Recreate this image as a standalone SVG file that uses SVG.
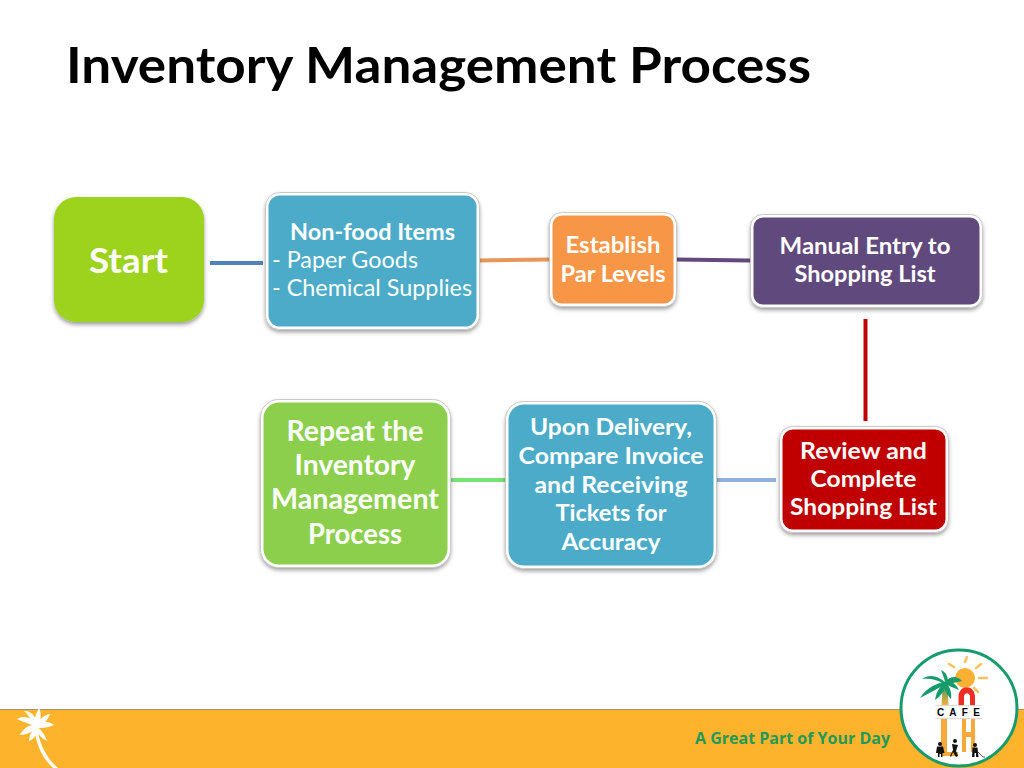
<svg xmlns="http://www.w3.org/2000/svg" width="1024" height="768" viewBox="0 0 1024 768">
<defs>
<filter id="sh" x="-10%" y="-10%" width="120%" height="125%"><feDropShadow dx="0" dy="2.500" stdDeviation="2" flood-color="#000" flood-opacity="0.4"/></filter>
<linearGradient id="palm" x1="0" y1="0" x2="0" y2="1"><stop offset="0" stop-color="#1a9a5a"/><stop offset="1" stop-color="#f5b041"/></linearGradient>
</defs>
<style>
text{font-family:"Lato","Carlito","Noto Sans",sans-serif;text-anchor:middle;fill:#fff}
.b{font-weight:700}
.box{stroke:#fff;stroke-width:3;filter:url(#sh)}
.out{fill:none;stroke:#c9c9c9;stroke-width:1}
.c{fill:none;stroke-width:4}
</style>
<rect width="1024" height="768" fill="#fff"/>
<text x="66" y="83" style="text-anchor:start;fill:#000;font-size:50px;font-weight:700" textLength="745" lengthAdjust="spacingAndGlyphs">Inventory Management Process</text>

<g id="connectors">
<path class="c" stroke="#4f81bd" d="M210 263H263"/>
<path class="c" stroke="#e8975a" d="M479 260.500L550 259.500"/>
<path class="c" stroke="#64497f" d="M676 259.500L750 260.500"/>
<path class="c" stroke="#c00000" d="M865.500 319V421"/>
<path class="c" stroke="#8fb0dc" d="M717 480H776"/>
<path class="c" stroke="#78e078" d="M451 480H505"/>
</g>

<g id="start"><rect x="54" y="197" width="150" height="125" rx="22" fill="#9dd31f" filter="url(#sh)"/>
<text class="b" x="128.500" y="273" font-size="34" textLength="79" lengthAdjust="spacingAndGlyphs">Start</text></g>

<g id="nonfood"><rect class="box" x="267" y="194" width="211" height="134" rx="13" fill="#4babc8"/>
<rect class="out" x="265.500" y="192.500" width="214" height="137" rx="14"/>
<text class="b" x="372.500" y="240" font-size="23.500" textLength="165" lengthAdjust="spacingAndGlyphs">Non-food Items</text>
<text x="345" y="268" font-size="23.500" textLength="146" lengthAdjust="spacingAndGlyphs">- Paper Goods</text>
<text x="372" y="296" font-size="23.500" textLength="200" lengthAdjust="spacingAndGlyphs">- Chemical Supplies</text></g>

<g id="par"><rect class="box" x="551" y="214" width="124" height="91" rx="11" fill="#f79646"/>
<rect class="out" x="549.500" y="212.500" width="127" height="94" rx="12"/>
<text class="b" x="613" y="253" font-size="23.500" textLength="95" lengthAdjust="spacingAndGlyphs">Establish</text>
<text class="b" x="613" y="282" font-size="23.500" textLength="105" lengthAdjust="spacingAndGlyphs">Par Levels</text></g>

<g id="manual"><rect class="box" x="752" y="216" width="229" height="90" rx="11" fill="#604a7b"/>
<rect class="out" x="750.500" y="214.500" width="232" height="93" rx="12"/>
<text class="b" x="865" y="254" font-size="23.500" textLength="171" lengthAdjust="spacingAndGlyphs">Manual Entry to</text>
<text class="b" x="865" y="282" font-size="23.500" textLength="141" lengthAdjust="spacingAndGlyphs">Shopping List</text></g>

<g id="review"><rect class="box" x="781" y="428" width="166" height="103" rx="12" fill="#c00000"/>
<rect class="out" x="779.500" y="426.500" width="169" height="106" rx="13"/>
<text class="b" x="863.500" y="459" font-size="23.500" textLength="127" lengthAdjust="spacingAndGlyphs">Review and</text>
<text class="b" x="863.500" y="487" font-size="23.500" textLength="106" lengthAdjust="spacingAndGlyphs">Complete</text>
<text class="b" x="863.500" y="515" font-size="23.500" textLength="147" lengthAdjust="spacingAndGlyphs">Shopping List</text></g>

<g id="delivery"><rect class="box" x="507" y="403" width="208" height="164" rx="17" fill="#4babc8"/>
<rect class="out" x="505.500" y="401.500" width="211" height="167" rx="18"/>
<text class="b" x="611" y="435" font-size="23.500" textLength="162" lengthAdjust="spacingAndGlyphs">Upon Delivery,</text>
<text class="b" x="611" y="464" font-size="23.500" textLength="185" lengthAdjust="spacingAndGlyphs">Compare Invoice</text>
<text class="b" x="611" y="493" font-size="23.500" textLength="153" lengthAdjust="spacingAndGlyphs">and Receiving</text>
<text class="b" x="611" y="521" font-size="23.500" textLength="111" lengthAdjust="spacingAndGlyphs">Tickets for</text>
<text class="b" x="611" y="550" font-size="23.500" textLength="99" lengthAdjust="spacingAndGlyphs">Accuracy</text></g>

<g id="repeat"><rect class="box" x="262" y="401" width="187" height="165" rx="17" fill="#8ccf4d"/>
<rect class="out" x="260.500" y="399.500" width="190" height="168" rx="18"/>
<text class="b" x="355" y="441" font-size="28" textLength="137" lengthAdjust="spacingAndGlyphs">Repeat the</text>
<text class="b" x="355" y="475" font-size="28" textLength="121" lengthAdjust="spacingAndGlyphs">Inventory</text>
<text class="b" x="355" y="509" font-size="28" textLength="168" lengthAdjust="spacingAndGlyphs">Management</text>
<text class="b" x="355" y="544" font-size="28" textLength="94" lengthAdjust="spacingAndGlyphs">Process</text></g>

<g id="footer">
<rect x="0" y="709" width="1024" height="59" fill="#fdb32b"/>
<path d="M0 709.500H1024" stroke="#a89468" stroke-width="1"/>
<g fill="#fff">
<path d="M37 726C39 742 45 757 58 768H53C42 758 36 744 34 727Z"/>
<path d="M34 725C34 718 37 712 39 708C42 714 41 721 37 726Z"/>
<path d="M35 726C31 720 28 714 24 711C31 710 36 717 38 724Z"/>
<path d="M35 726C28 724 22 721 17 719C26 714 33 719 38 725Z"/>
<path d="M36 724C29 725 22 729 20 735C28 735 33 731 37 727Z"/>
<path d="M35 726C32 730 29 736 29 741C35 739 38 733 38 727Z"/>
<path d="M35 725C39 720 44 715 50 714C48 720 43 725 37 727Z"/>
<path d="M35 724C42 721 48 721 54 725C47 728 42 728 36 728Z"/>
<path d="M36 726C41 729 45 735 47 741C41 738 37 733 35 728Z"/>
</g>
<text x="792.500" y="744" style="fill:#1f9a5a;font-family:'Open Sans','DejaVu Sans',sans-serif;font-weight:700" font-size="16" textLength="195" lengthAdjust="spacingAndGlyphs">A Great Part of Your Day</text>
</g>

<g id="logo">
<circle cx="959" cy="708" r="58" fill="#fff" stroke="#179b6b" stroke-width="3"/>
<circle cx="965" cy="678" r="10" fill="#fbb034"/>
<g stroke="#fbc15e" stroke-width="2.500" fill="none" stroke-linecap="round"><path d="M965 662L967 657"/><path d="M976 668L981 664"/><path d="M979 678H987"/><path d="M954 667L949 664"/><path d="M974 688L978 692"/></g>
<path d="M941.500 705L943 682H947L948.500 705Z" fill="url(#palm)"/>
<g fill="#179b6b"><path d="M945 682C937 675 929 674 922 679C931 678 938 680 944 684Z"/><path d="M945 682C935 683 926 689 920 698C930 693 938 688 945 685Z"/><path d="M945 682C939 687 936 693 935 700C941 696 945 690 946 685Z"/><path d="M945 682C950 686 952 693 951 699C947 695 944 690 944 685Z"/><path d="M945 682C944 677 942 673 941 670C946 672 948 677 948 681Z"/><path d="M945 682C950 676 957 675 962 681C956 682 950 684 945 685Z"/><path d="M945 682C950 680 956 683 959 690C954 688 949 686 945 684Z"/></g>
<path d="M958.500 705V697C958.500 684 975 684 975 697V705H970V697C970 692 964 692 964 697V705Z" fill="#ee2e24"/>
<path d="M935 705.500H982M935 718.500H982" stroke="#ccc" stroke-width="0.700"/>
<text x="958.500" y="716" style="fill:#000;font-family:'Liberation Sans',sans-serif;font-weight:700" font-size="10" textLength="43">C A F E</text>
<path d="M941 719H947V752H958V756H941ZM962 719H966V732H971V719H975V752H971V737H966V752H962Z" fill="#f5a93a"/>
<g fill="#111"><circle cx="940" cy="744" r="2"/><path d="M937 746.500H943L944.500 753H942.500V757H941V754H939.500V757H938V753H936Z"/><circle cx="955" cy="741" r="2"/><path d="M952 744L958 745L956 751L958 756L956 757L953 752L951 757L950 756L953 750Z"/><circle cx="975" cy="745" r="2"/><path d="M972.500 747.500H977.500L978.500 757H976V753H974.500V757H972Z"/><path d="M978 752L983 757H985" stroke="#111" stroke-width="0.700" fill="none"/></g>
</g>
</svg>
